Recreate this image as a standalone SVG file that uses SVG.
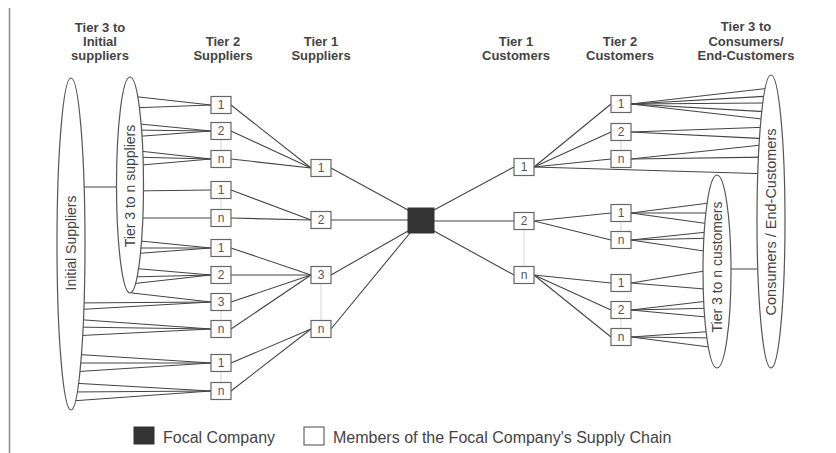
<svg xmlns="http://www.w3.org/2000/svg" width="836" height="453" viewBox="0 0 836 453">
  <style>
    .hdr { font-family: "Liberation Sans", Arial, sans-serif; font-size: 13px; font-weight: bold; fill: #444; text-anchor: middle; }
    .lbl { font-family: "Liberation Sans", Arial, sans-serif; font-size: 12px; fill: #555; text-anchor: middle; }
    .vlbl { font-family: "Liberation Sans", Arial, sans-serif; font-size: 14px; fill: #444; text-anchor: middle; }
    .leg { font-family: "Liberation Sans", Arial, sans-serif; font-size: 16px; fill: #444; }
    .box { fill: #fff; stroke: #666; stroke-width: 1.2; }
    .focal { fill: #333; stroke: #333; stroke-width: 1; }
    .ell { fill: #fff; stroke: #555; stroke-width: 1.2; }
    .link line { stroke: #444; stroke-width: 1.1; }
    .dots line { stroke: #999; stroke-width: 0.8; stroke-dasharray: 1 1; }
  </style>

  <rect width="836" height="453" fill="#fff"/>
  <!-- page margin rule -->
  <line x1="9.5" y1="8" x2="9.5" y2="453" stroke="#888" stroke-width="1.5"/>

  <!-- column headings -->
  <g id="headings">
    <text class="hdr" x="100" y="32">Tier 3 to</text>
    <text class="hdr" x="100" y="46">Initial</text>
    <text class="hdr" x="100" y="60">suppliers</text>
    <text class="hdr" x="223" y="46">Tier 2</text>
    <text class="hdr" x="223" y="60">Suppliers</text>
    <text class="hdr" x="321" y="46">Tier 1</text>
    <text class="hdr" x="321" y="60">Suppliers</text>
    <text class="hdr" x="516" y="46">Tier 1</text>
    <text class="hdr" x="516" y="60">Customers</text>
    <text class="hdr" x="620" y="46">Tier 2</text>
    <text class="hdr" x="620" y="60">Customers</text>
    <text class="hdr" x="746" y="31">Tier 3 to</text>
    <text class="hdr" x="746" y="45.5">Consumers/</text>
    <text class="hdr" x="746" y="60">End-Customers</text>
  </g>

  <!-- connectors (ends under the ellipses are covered by their fill) -->
  <g id="connectors">
    <g class="link">
      <!-- between the two supplier ellipses -->
      <line x1="71" y1="187" x2="130" y2="187"/>
      <!-- tier 3..n suppliers to tier 2 -->
      <line x1="130" y1="96" x2="211" y2="105"/>
      <line x1="130" y1="108" x2="211" y2="105"/>
      <line x1="130" y1="123" x2="211" y2="131"/>
      <line x1="130" y1="130" x2="211" y2="131"/>
      <line x1="130" y1="137" x2="211" y2="131"/>
      <line x1="130" y1="150" x2="211" y2="159"/>
      <line x1="130" y1="157" x2="211" y2="159"/>
      <line x1="130" y1="166" x2="211" y2="159"/>
      <line x1="130" y1="191" x2="211" y2="190"/>
      <line x1="130" y1="218" x2="211" y2="218"/>
      <line x1="130" y1="240" x2="211" y2="248"/>
      <line x1="130" y1="248" x2="211" y2="248"/>
      <line x1="130" y1="254" x2="211" y2="248"/>
      <line x1="130" y1="268" x2="211" y2="275"/>
      <line x1="130" y1="277" x2="211" y2="275"/>
      <line x1="130" y1="284" x2="211" y2="275"/>
      <line x1="132" y1="293" x2="211" y2="302"/>
      <!-- initial suppliers to tier 2 -->
      <line x1="71" y1="303" x2="211" y2="302"/>
      <line x1="71" y1="310" x2="211" y2="302"/>
      <line x1="71" y1="319" x2="211" y2="329"/>
      <line x1="71" y1="327" x2="211" y2="329"/>
      <line x1="71" y1="336" x2="211" y2="329"/>
      <line x1="71" y1="354" x2="211" y2="363"/>
      <line x1="71" y1="363" x2="211" y2="363"/>
      <line x1="71" y1="372" x2="211" y2="363"/>
      <line x1="71" y1="383" x2="211" y2="391"/>
      <line x1="71" y1="392" x2="211" y2="391"/>
      <line x1="71" y1="401" x2="211" y2="391"/>
      <!-- tier 2 to tier 1 suppliers -->
      <line x1="231" y1="105" x2="311" y2="168"/>
      <line x1="231" y1="131" x2="311" y2="168"/>
      <line x1="231" y1="159" x2="311" y2="168"/>
      <line x1="231" y1="190" x2="311" y2="220"/>
      <line x1="231" y1="218" x2="311" y2="220"/>
      <line x1="231" y1="248" x2="311" y2="275"/>
      <line x1="231" y1="275" x2="311" y2="275"/>
      <line x1="231" y1="302" x2="311" y2="275"/>
      <line x1="231" y1="329" x2="311" y2="275"/>
      <line x1="231" y1="363" x2="311" y2="329"/>
      <line x1="231" y1="391" x2="311" y2="329"/>
      <!-- tier 1 suppliers to focal company -->
      <line x1="331" y1="168" x2="408" y2="210"/>
      <line x1="331" y1="220" x2="408" y2="220"/>
      <line x1="331" y1="275" x2="408" y2="231"/>
      <line x1="331" y1="329" x2="410" y2="233"/>
      <!-- focal company to tier 1 customers -->
      <line x1="434" y1="210" x2="514" y2="167"/>
      <line x1="434" y1="221" x2="514" y2="221"/>
      <line x1="434" y1="231" x2="514" y2="275"/>
      <!-- tier 1 to tier 2 customers -->
      <line x1="534" y1="167" x2="611" y2="104"/>
      <line x1="534" y1="167" x2="611" y2="132"/>
      <line x1="534" y1="167" x2="611" y2="159"/>
      <line x1="534" y1="167" x2="771" y2="174"/>
      <line x1="534" y1="221" x2="611" y2="213"/>
      <line x1="534" y1="221" x2="611" y2="240"/>
      <line x1="534" y1="275" x2="611" y2="283"/>
      <line x1="534" y1="275" x2="611" y2="310"/>
      <line x1="534" y1="275" x2="611" y2="337"/>
      <!-- tier 2 customers to consumers / end-customers -->
      <line x1="631" y1="104" x2="771" y2="88"/>
      <line x1="631" y1="104" x2="771" y2="96"/>
      <line x1="631" y1="104" x2="771" y2="103"/>
      <line x1="631" y1="104" x2="771" y2="112"/>
      <line x1="631" y1="104" x2="771" y2="120"/>
      <line x1="631" y1="132" x2="771" y2="127"/>
      <line x1="631" y1="132" x2="771" y2="139"/>
      <line x1="631" y1="159" x2="771" y2="144"/>
      <line x1="631" y1="159" x2="771" y2="157"/>
      <!-- tier 2 customers to tier 3..n customers -->
      <line x1="631" y1="213" x2="717" y2="202"/>
      <line x1="631" y1="213" x2="717" y2="213"/>
      <line x1="631" y1="213" x2="717" y2="225"/>
      <line x1="631" y1="240" x2="717" y2="231"/>
      <line x1="631" y1="240" x2="717" y2="238"/>
      <line x1="631" y1="240" x2="717" y2="253"/>
      <line x1="631" y1="283" x2="717" y2="269"/>
      <line x1="631" y1="283" x2="717" y2="290"/>
      <line x1="631" y1="310" x2="717" y2="300"/>
      <line x1="631" y1="310" x2="717" y2="308"/>
      <line x1="631" y1="310" x2="717" y2="318"/>
      <line x1="631" y1="337" x2="717" y2="331"/>
      <line x1="631" y1="337" x2="717" y2="338"/>
      <line x1="631" y1="337" x2="717" y2="348"/>
      <!-- between the two customer ellipses -->
      <line x1="717" y1="269" x2="771" y2="269"/>
    </g>
    <!-- dotted "and so on" rules between members of a column -->
    <g class="dots">
      <line x1="221" y1="139.5" x2="221" y2="150.5"/>
      <line x1="221" y1="198.5" x2="221" y2="209.5"/>
      <line x1="221" y1="310.5" x2="221" y2="320.5"/>
      <line x1="221" y1="371.5" x2="221" y2="382.5"/>
      <line x1="321" y1="283.5" x2="321" y2="320.5"/>
      <line x1="524" y1="229.5" x2="524" y2="266.5"/>
      <line x1="621" y1="140.5" x2="621" y2="150.5"/>
      <line x1="621" y1="221.5" x2="621" y2="231.5"/>
      <line x1="621" y1="318.5" x2="621" y2="328.5"/>
    </g>
  </g>

  <!-- ellipses: supplier and customer groupings -->
  <g id="initial-suppliers">
    <ellipse class="ell" cx="71" cy="244" rx="14" ry="166"/>
    <text class="vlbl" transform="translate(75.5,243) rotate(-90)">Initial Suppliers</text>
  </g>
  <g id="tier3-suppliers">
    <ellipse class="ell" cx="130" cy="185" rx="13.5" ry="108"/>
    <text class="vlbl" transform="translate(134.5,186) rotate(-90)">Tier 3 to n suppliers</text>
  </g>
  <g id="tier3-customers">
    <ellipse class="ell" cx="717" cy="271.5" rx="14" ry="96.5"/>
    <text class="vlbl" transform="translate(721.5,267) rotate(-90)">Tier 3 to n customers</text>
  </g>
  <g id="end-customers">
    <ellipse class="ell" cx="771" cy="221.5" rx="14" ry="146.5"/>
    <text class="vlbl" style="font-size:14.5px" transform="translate(775.5,222) rotate(-90)">Consumers / End-Customers</text>
  </g>

  <!-- tier 2 suppliers -->
  <g id="s2-a1"><rect class="box" x="211" y="96.5" width="20" height="17"/><text class="lbl" x="221" y="109.3">1</text></g>
  <g id="s2-a2"><rect class="box" x="211" y="122.5" width="20" height="17"/><text class="lbl" x="221" y="135.3">2</text></g>
  <g id="s2-an"><rect class="box" x="211" y="150.5" width="20" height="17"/><text class="lbl" x="221" y="163.3">n</text></g>
  <g id="s2-b1"><rect class="box" x="211" y="181.5" width="20" height="17"/><text class="lbl" x="221" y="194.3">1</text></g>
  <g id="s2-bn"><rect class="box" x="211" y="209.5" width="20" height="17"/><text class="lbl" x="221" y="222.3">n</text></g>
  <g id="s2-c1"><rect class="box" x="211" y="239.5" width="20" height="17"/><text class="lbl" x="221" y="252.3">1</text></g>
  <g id="s2-c2"><rect class="box" x="211" y="266.5" width="20" height="17"/><text class="lbl" x="221" y="279.3">2</text></g>
  <g id="s2-c3"><rect class="box" x="211" y="293.5" width="20" height="17"/><text class="lbl" x="221" y="306.3">3</text></g>
  <g id="s2-cn"><rect class="box" x="211" y="320.5" width="20" height="17"/><text class="lbl" x="221" y="333.3">n</text></g>
  <g id="s2-d1"><rect class="box" x="211" y="354.5" width="20" height="17"/><text class="lbl" x="221" y="367.3">1</text></g>
  <g id="s2-dn"><rect class="box" x="211" y="382.5" width="20" height="17"/><text class="lbl" x="221" y="395.3">n</text></g>

  <!-- tier 1 suppliers -->
  <g id="s1-1"><rect class="box" x="311" y="159.5" width="20" height="17"/><text class="lbl" x="321" y="172.3">1</text></g>
  <g id="s1-2"><rect class="box" x="311" y="211.5" width="20" height="17"/><text class="lbl" x="321" y="224.3">2</text></g>
  <g id="s1-3"><rect class="box" x="311" y="266.5" width="20" height="17"/><text class="lbl" x="321" y="279.3">3</text></g>
  <g id="s1-n"><rect class="box" x="311" y="320.5" width="20" height="17"/><text class="lbl" x="321" y="333.3">n</text></g>

  <!-- focal company -->
  <g id="focal"><rect class="focal" x="408" y="208" width="26" height="25"/></g>

  <!-- tier 1 customers -->
  <g id="c1-1"><rect class="box" x="514" y="158.5" width="20" height="17"/><text class="lbl" x="524" y="171.3">1</text></g>
  <g id="c1-2"><rect class="box" x="514" y="212.5" width="20" height="17"/><text class="lbl" x="524" y="225.3">2</text></g>
  <g id="c1-n"><rect class="box" x="514" y="266.5" width="20" height="17"/><text class="lbl" x="524" y="279.3">n</text></g>

  <!-- tier 2 customers -->
  <g id="c2-a1"><rect class="box" x="611" y="95.5" width="20" height="17"/><text class="lbl" x="621" y="108.3">1</text></g>
  <g id="c2-a2"><rect class="box" x="611" y="123.5" width="20" height="17"/><text class="lbl" x="621" y="136.3">2</text></g>
  <g id="c2-an"><rect class="box" x="611" y="150.5" width="20" height="17"/><text class="lbl" x="621" y="163.3">n</text></g>
  <g id="c2-b1"><rect class="box" x="611" y="204.5" width="20" height="17"/><text class="lbl" x="621" y="217.3">1</text></g>
  <g id="c2-bn"><rect class="box" x="611" y="231.5" width="20" height="17"/><text class="lbl" x="621" y="244.3">n</text></g>
  <g id="c2-c1"><rect class="box" x="611" y="274.5" width="20" height="17"/><text class="lbl" x="621" y="287.3">1</text></g>
  <g id="c2-c2"><rect class="box" x="611" y="301.5" width="20" height="17"/><text class="lbl" x="621" y="314.3">2</text></g>
  <g id="c2-cn"><rect class="box" x="611" y="328.5" width="20" height="17"/><text class="lbl" x="621" y="341.3">n</text></g>

  <!-- legend -->
  <g id="legend">
    <rect class="focal" x="134" y="427" width="20" height="17"/>
    <text class="leg" x="163" y="443">Focal Company</text>
    <rect class="box" x="304" y="427" width="20" height="18"/>
    <text class="leg" x="333" y="443">Members of the Focal Company's Supply Chain</text>
  </g>
</svg>
